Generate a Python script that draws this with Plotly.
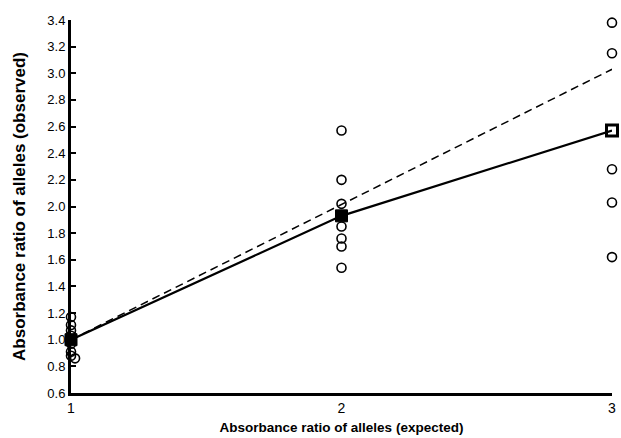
import plotly.graph_objects as go

# Observed individual ratios
obs_x = [1, 1, 1, 1, 1, 1, 1, 1.015,
         2, 2, 2, 2, 2, 2, 2,
         3, 3, 3.015, 3, 3, 3]
obs_y = [1.17, 1.11, 1.07, 1.03, 0.97, 0.91, 0.88, 0.86,
         2.57, 2.20, 2.02, 1.85, 1.76, 1.70, 1.54,
         3.38, 3.15, 3.15, 2.28, 2.03, 1.62]

# Mean observed ratios
mean_x = [1, 2, 3]
mean_y = [1.00, 1.93, 2.57]

# Expected (dashed) line
exp_x = [1, 3]
exp_y = [1.00, 3.03]

x_ticks = [1, 2, 3]
y_ticks = [0.6, 0.8, 1.0, 1.2, 1.4, 1.6, 1.8, 2.0, 2.2, 2.4, 2.6, 2.8, 3.0, 3.2, 3.4]

fig = go.Figure()
fig.add_trace(go.Scatter(x=exp_x, y=exp_y, mode="lines",
                         line=dict(color="black", width=1.5, dash="8px,5px"),
                         cliponaxis=False, showlegend=False))
fig.add_trace(go.Scatter(x=mean_x, y=mean_y, mode="lines",
                         line=dict(color="black", width=2.2),
                         cliponaxis=False, showlegend=False))
fig.add_trace(go.Scatter(x=obs_x, y=obs_y, mode="markers",
                         marker=dict(symbol="circle-open", size=9, color="black", opacity=1,
                                     line=dict(width=1.6, color="black")),
                         cliponaxis=False, showlegend=False))
fig.add_trace(go.Scatter(x=mean_x, y=mean_y, mode="markers",
                         marker=dict(symbol=["square", "square", "square-open"], size=[12, 12, 11],
                                     color="#000000", opacity=1,
                                     line=dict(width=[1, 1, 3], color="#000000")),
                         cliponaxis=False, showlegend=False))

font_family = "Liberation Sans, Arial, sans-serif"
fig.update_layout(
    width=621, height=438,
    margin=dict(l=71, r=5, t=20, b=42),
    paper_bgcolor="white", plot_bgcolor="white",
    font=dict(family=font_family, color="black"),
    xaxis=dict(range=[1, 3], tickvals=x_ticks, ticktext=[str(v) for v in x_ticks],
               showgrid=False, zeroline=False, showline=True, linecolor="black", linewidth=3,
               ticks="", tickfont=dict(size=14, family=font_family),
               title=dict(text="<b>Absorbance ratio of alleles (expected)</b>",
                          font=dict(size=13.5), standoff=8)),
    yaxis=dict(range=[0.6, 3.4], tickvals=y_ticks,
               ticktext=["%.1f" % v for v in y_ticks],
               showgrid=False, zeroline=False, showline=True, linecolor="black", linewidth=3,
               ticks="inside", ticklen=5, tickwidth=2, tickcolor="black",
               tickfont=dict(size=13, family=font_family),
               title=dict(text="<b>Absorbance ratio of alleles (observed)</b>",
                          font=dict(size=17), standoff=18)),
)

fig.write_html("out.html", config={"displayModeBar": False},
               post_script="document.body.style.margin='0';document.body.style.overflow='hidden';")
